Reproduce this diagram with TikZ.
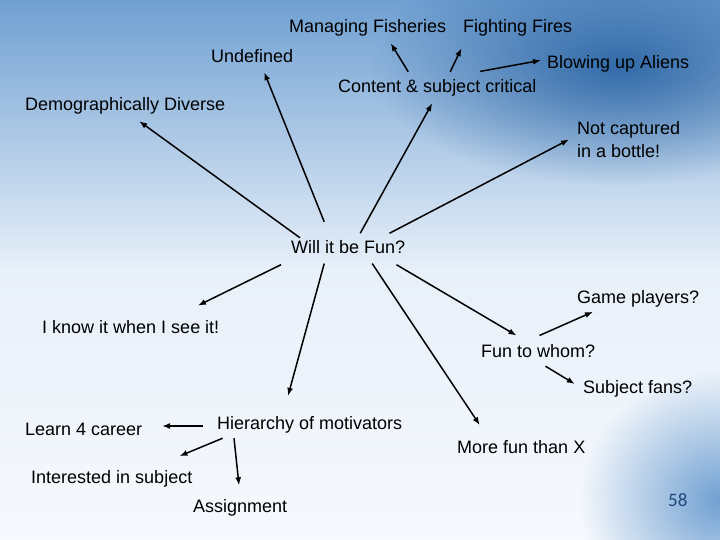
\documentclass[tikz,border=0pt]{standalone}
\usepackage{fontspec}
\setmainfont{Liberation Sans}
\newfontfamily\numfont{Carlito}
\usepackage{tikz}
\usetikzlibrary{arrows.meta,fadings}
\usepackage{xcolor}
\definecolor{bgtop}{RGB}{112,160,210}
\definecolor{bgmid}{RGB}{232,240,249}
\definecolor{bglow}{RGB}{246,249,253}
\definecolor{bgdeep}{RGB}{50,106,168}
\definecolor{numblue}{RGB}{31,73,125}
\tikzfading[name=softglow, inner color=transparent!0, outer color=transparent!100]
\tikzstyle{arrow} = [line width=1.5pt,->,>={Latex[length=8pt,width=6pt]}]
\tikzstyle{idea} = [inner sep=0pt, anchor=base west, text height=13pt, text depth=4pt, font=\fontsize{18}{23}\selectfont]
\tikzstyle{ideablock} = [inner sep=0pt, anchor=north west, align=left, font=\fontsize{18}{23}\selectfont]

\begin{document}
\begin{tikzpicture}[x=1pt,y=-1pt]
\useasboundingbox (0,0) rectangle (720,540);
% Slide background
\shade[top color=bgtop, bottom color=bgmid] (0,0) rectangle (720,270);
\shade[top color=bgmid, bottom color=bglow] (0,270) rectangle (720,540);
\fill[bgdeep, path fading=softglow] (620,65) ellipse (250 and 120);
\fill[bgtop, path fading=softglow] (720,500) ellipse (140 and 130);

% Ideas
\node[idea] (demo) at (25,111) {Demographically Diverse};
\node[idea] (undef) at (211,63) {Undefined};
\node[idea] (fish) at (289,33) {Managing Fisheries};
\node[idea] (fire) at (463,33) {Fighting Fires};
\node[idea] (alien) at (547,68.5) {Blowing up Aliens};
\node[idea] (content) at (338,93) {Content \& subject critical};
\node[ideablock] (bottle) at (577,121) {Not captured\\in a bottle!};
\node[idea] (will) at (291,254) {Will it be Fun?};
\node[idea] (game) at (577,303) {Game players?};
\node[idea] (know) at (42,333) {I know it when I see it!};
\node[idea] (whom) at (481,357) {Fun to whom?};
\node[idea] (fans) at (583,393) {Subject fans?};
\node[idea] (hier) at (217,429) {Hierarchy of motivators};
\node[idea] (learn) at (25,435) {Learn 4 career};
\node[idea] (more) at (457,453) {More fun than X};
\node[idea] (inter) at (31,483) {Interested in subject};
\node[idea] (assign) at (193,512.5) {Assignment};
\node[anchor=base west, inner sep=0pt, text=numblue, font=\numfont\fontsize{19}{23}\selectfont] (page) at (668,506) {58};

% Upward branches
\draw[arrow] ([shift={(9,-3)}]will.north west) -- ([shift={(14,6)}]demo.south);
\draw[arrow] ([shift={(-24,-19)}]will.north) -- ([shift={(12,5)}]undef.south);
\draw[arrow] ([shift={(12,-7.5)}]will.north) -- ([shift={(-5,6)}]content.south);
\draw[arrow] ([shift={(-16,-7.5)}]will.north east) -- ([shift={(-8,18.5)}]bottle.north west);
\draw[arrow] ([shift={(-29,-8)}]content.north) -- ([shift={(23,6)}]fish.south);
\draw[arrow] ([shift={(13,-8)}]content.north) -- ([shift={(-1.5,11)}]fire.south west);
\draw[arrow] ([shift={(43,-8.4)}]content.north) -- ([shift={(-6,-3.7)}]alien.west);

% Downward branches
\draw[arrow] ([shift={(-10,6.5)}]will.south west) -- ([shift={(-21.6,-14.2)}]know.north east);
\draw[arrow] ([shift={(-24,5.4)}]will.south) -- ([shift={(71,-20)}]hier.north west);
\draw[arrow] ([shift={(24,5.4)}]will.south) -- ([shift={(22.8,-14.7)}]more.north west);
\draw[arrow] ([shift={(-9,6.5)}]will.south east) -- ([shift={(35.5,-8.3)}]whom.north west);
\draw[arrow] ([shift={(58.5,-8.3)}]whom.north west) -- ([shift={(16,4.6)}]game.south west);
\draw[arrow] ([shift={(64.5,5)}]whom.south west) -- ([shift={(-8.2,-4.5)}]fans.west);
\draw[arrow] ([shift={(-14,1.5)}]hier.west) -- ([shift={(19.6,-4.5)}]learn.east);
\draw[arrow] ([shift={(5.7,5)}]hier.south west) -- ([shift={(-13,-13.7)}]inter.north east);
\draw[arrow] ([shift={(17,5)}]hier.south west) -- ([shift={(-1.2,-14)}]assign.north);
\end{tikzpicture}
\end{document}
